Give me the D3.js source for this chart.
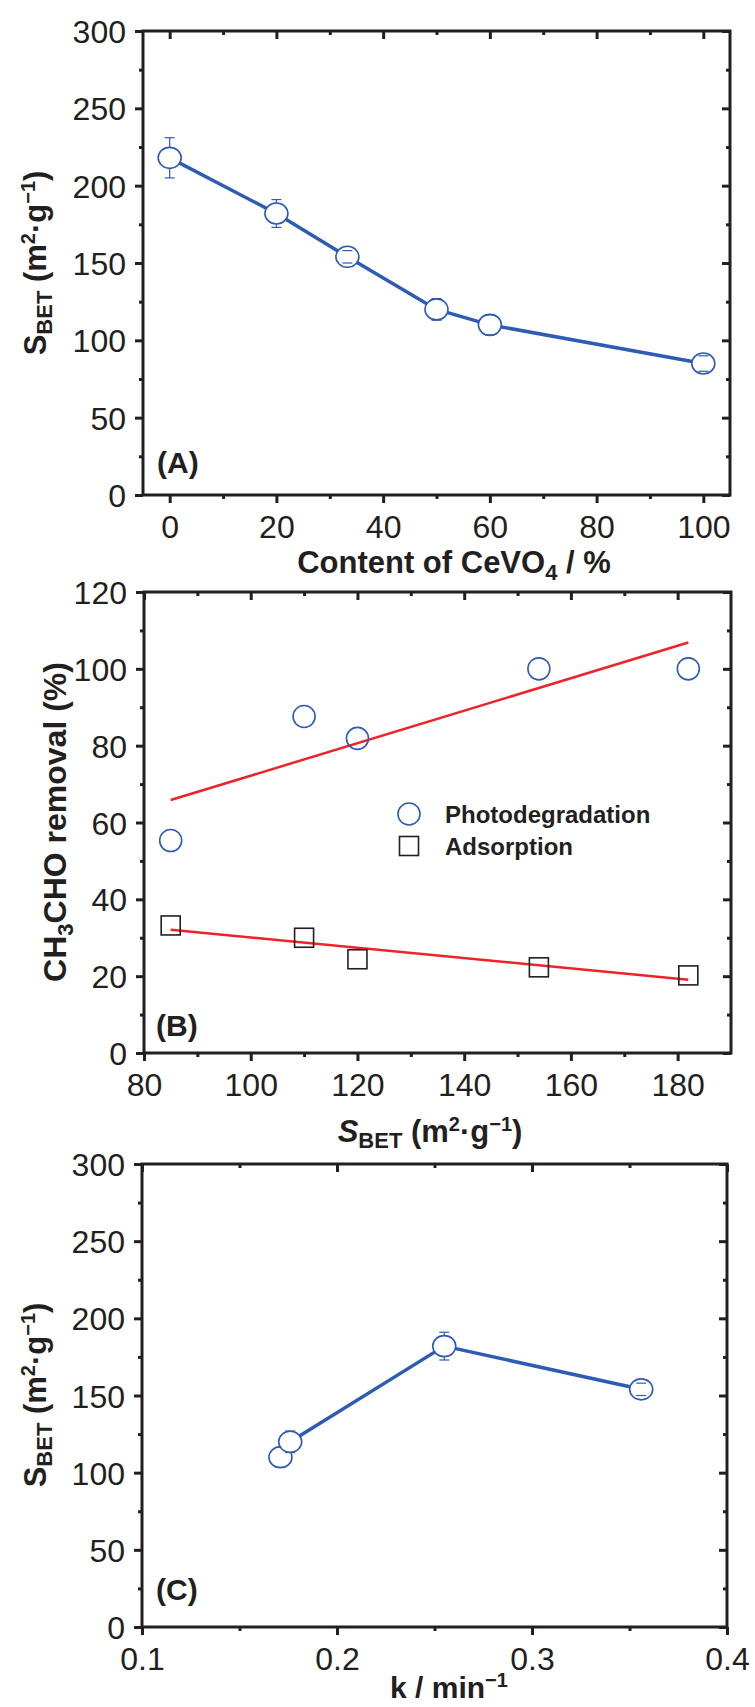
<!DOCTYPE html>
<html><head><meta charset="utf-8">
<script src="https://cdn.jsdelivr.net/npm/d3@7"></script>
<style>
body{margin:0;background:#fff}
svg text{font-family:"Liberation Sans",Arial,Helvetica,sans-serif;fill:#231F20}
</style>
</head><body>
<svg id="chart" width="755" height="1707"></svg>
<script>
// ---------- data ----------
const contentCeVO4 = [0, 20, 33.3, 50, 60, 100];
const sbetA = [218, 182, 154, 120, 110, 85];
const sbetAErr = [13, 9, 4, 7, 6.5, 5];

const sbetB = [85, 110, 120, 154, 182];
const photodegradation = [55.3, 87.6, 81.9, 100, 100];
const adsorption = [33.2, 30, 24.4, 22.3, 20.2];
const legendLabels = ["Photodegradation", "Adsorption"];

const kRate = [0.171, 0.176, 0.255, 0.356];
const sbetC = [110, 120, 182, 154];
const sbetCErr = [6.5, 7, 9, 4];

const xTicksA = [0, 20, 40, 60, 80, 100];
const xMinorA = [10, 30, 50, 70, 90];
const yTicksA = [0, 50, 100, 150, 200, 250, 300];
const yMinorA = [25, 75, 125, 175, 225, 275];
const xTicksB = [80, 100, 120, 140, 160, 180];
const xMinorB = [90, 110, 130, 150, 170];
const yTicksB = [0, 20, 40, 60, 80, 100, 120];
const yMinorB = [10, 30, 50, 70, 90, 110];
const xTicksC = [0.1, 0.2, 0.3, 0.4];
const xMinorC = [0.15, 0.25, 0.35];
const yTicksC = [0, 50, 100, 150, 200, 250, 300];
const yMinorC = [25, 75, 125, 175, 225, 275];

// ---------- style ----------
const INK = "#231F20", BLUE = "#2E5BB4", RED = "#EE2229";
const svg = d3.select("#chart");

function panel(box, xDom, yDom, xt, xm, yt, ym, xFmt) {
  const g = svg.append("g");
  const x = d3.scaleLinear().domain(xDom).range([box.l, box.r]);
  const y = d3.scaleLinear().domain(yDom).range([box.b, box.t]);
  const style = sel => {
    sel.select(".domain").remove();
    sel.selectAll("line").attr("stroke", INK).attr("stroke-width", 3);
    sel.selectAll("text").attr("font-size", 32).attr("fill", INK);
  };
  g.append("g").attr("transform", `translate(0,${box.b})`)
    .call(d3.axisBottom(x).tickValues(xt).tickSize(8).tickPadding(12).tickFormat(xFmt)).call(style)
    .selectAll("text").attr("dy", "0.71em");
  g.append("g").attr("transform", `translate(0,${box.b})`)
    .call(d3.axisBottom(x).tickValues(xm).tickSize(4).tickFormat("")).call(style);
  g.append("g").attr("transform", `translate(0,${box.t})`)
    .call(d3.axisTop(x).tickValues(xt).tickSize(-8).tickFormat("")).call(style);
  g.append("g").attr("transform", `translate(0,${box.t})`)
    .call(d3.axisTop(x).tickValues(xm).tickSize(-4).tickFormat("")).call(style);
  g.append("g").attr("transform", `translate(${box.l},0)`)
    .call(d3.axisLeft(y).tickValues(yt).tickSize(8).tickPadding(9)).call(style)
    .selectAll("text").attr("dy", "0.36em");
  g.append("g").attr("transform", `translate(${box.l},0)`)
    .call(d3.axisLeft(y).tickValues(ym).tickSize(4).tickFormat("")).call(style);
  g.append("g").attr("transform", `translate(${box.r},0)`)
    .call(d3.axisRight(y).tickValues(yt).tickSize(-8).tickFormat("")).call(style);
  g.append("g").attr("transform", `translate(${box.r},0)`)
    .call(d3.axisRight(y).tickValues(ym).tickSize(-4).tickFormat("")).call(style);
  g.append("rect").attr("x", box.l).attr("y", box.t)
    .attr("width", box.r - box.l).attr("height", box.b - box.t)
    .attr("fill", "none").attr("stroke", INK).attr("stroke-width", 3);
  return {g, x, y};
}

function errorMarkers(p, xs, ys, errs) {
  const rx = 11.5, ry = 10.5;
  xs.forEach((xv, i) => {
    const cx = p.x(xv), cy = p.y(ys[i]);
    const top = p.y(ys[i] + errs[i]), bot = p.y(ys[i] - errs[i]);
    p.g.append("ellipse").attr("cx", cx).attr("cy", cy).attr("rx", rx).attr("ry", ry)
      .attr("fill", "#fff").attr("stroke", BLUE).attr("stroke-width", 1.6);
    const eb = p.g.append("g").attr("stroke", BLUE).attr("stroke-width", 1.2);
    if (cy - top > ry) eb.append("line").attr("x1", cx).attr("x2", cx).attr("y1", top).attr("y2", cy - ry);
    if (bot - cy > ry) eb.append("line").attr("x1", cx).attr("x2", cx).attr("y1", bot).attr("y2", cy + ry);
    eb.append("line").attr("x1", cx - 5).attr("x2", cx + 5).attr("y1", top).attr("y2", top);
    eb.append("line").attr("x1", cx - 5).attr("x2", cx + 5).attr("y1", bot).attr("y2", bot);
  });
}

function sbetTitle(parent, attrs, italic) {
  const t = parent.append("text").attr("font-weight", "bold").attr("font-size", 31);
  Object.entries(attrs).forEach(([k, v]) => t.attr(k, v));
  t.append("tspan").text("S").attr("font-style", italic ? "italic" : "normal");
  t.append("tspan").text("BET").attr("font-size", 22).attr("dy", 6);
  t.append("tspan").text(" (m").attr("dy", -6);
  t.append("tspan").text("2").attr("font-size", 20).attr("dy", -11);
  t.append("tspan").text("·g").attr("dy", 11);
  t.append("tspan").text("−1").attr("font-size", 20).attr("dy", -11);
  t.append("tspan").text(")").attr("dy", 11);
  return t;
}

// ---------- Panel A ----------
const A = panel({l:143, r:730, t:31, b:495}, [-5, 105], [0, 300], xTicksA, xMinorA, yTicksA, yMinorA, d3.format("d"));
A.g.append("path").datum(contentCeVO4.map((v, i) => [v, sbetA[i]]))
  .attr("fill", "none").attr("stroke", BLUE).attr("stroke-width", 3.5).attr("stroke-linejoin", "round")
  .attr("d", d3.line().x(d => A.x(d[0])).y(d => A.y(d[1])));
errorMarkers(A, contentCeVO4, sbetA, sbetAErr);
A.g.append("text").attr("x", 157).attr("y", 473).attr("font-size", 30).attr("font-weight", "bold").text("(A)");
sbetTitle(A.g, {transform: "translate(46,263) rotate(-90)", "text-anchor": "middle"}, false);
{
  const t = A.g.append("text").attr("x", 454).attr("y", 573).attr("text-anchor", "middle")
    .attr("font-size", 31).attr("font-weight", "bold");
  t.append("tspan").text("Content of CeVO");
  t.append("tspan").text("4").attr("font-size", 22).attr("dy", 7);
  t.append("tspan").text(" / %").attr("dy", -7);
}

// ---------- Panel B ----------
const B = panel({l:144, r:731, t:592, b:1053}, [80, 190], [0, 120], xTicksB, xMinorB, yTicksB, yMinorB, d3.format("d"));
function fitLine(xs, ys) {
  const mx = d3.mean(xs), my = d3.mean(ys);
  const slope = d3.sum(xs, (v, i) => (v - mx) * (ys[i] - my)) / d3.sum(xs, v => (v - mx) ** 2);
  const [x0, x1] = d3.extent(xs);
  return [[x0, my + slope * (x0 - mx)], [x1, my + slope * (x1 - mx)]];
}
[photodegradation, adsorption].forEach(ys => {
  B.g.append("path").datum(fitLine(sbetB, ys))
    .attr("fill", "none").attr("stroke", RED).attr("stroke-width", 2.5)
    .attr("d", d3.line().x(d => B.x(d[0])).y(d => B.y(d[1])));
});
B.g.selectAll("circle.pd").data(sbetB.map((v, i) => [v, photodegradation[i]])).join("circle")
  .attr("cx", d => B.x(d[0])).attr("cy", d => B.y(d[1])).attr("r", 11)
  .attr("fill", "none").attr("stroke", BLUE).attr("stroke-width", 1.6);
B.g.selectAll("rect.ad").data(sbetB.map((v, i) => [v, adsorption[i]])).join("rect")
  .attr("x", d => B.x(d[0]) - 9.5).attr("y", d => B.y(d[1]) - 9.5).attr("width", 19).attr("height", 19)
  .attr("fill", "none").attr("stroke", INK).attr("stroke-width", 1.6);
B.g.append("circle").attr("cx", 409).attr("cy", 814).attr("r", 11).attr("fill", "none").attr("stroke", BLUE).attr("stroke-width", 1.6);
B.g.append("rect").attr("x", 399.5).attr("y", 836.5).attr("width", 19).attr("height", 19).attr("fill", "none").attr("stroke", INK).attr("stroke-width", 1.6);
B.g.append("text").attr("x", 445).attr("y", 823).attr("font-size", 24).attr("font-weight", "bold").text(legendLabels[0]);
B.g.append("text").attr("x", 445).attr("y", 855).attr("font-size", 24).attr("font-weight", "bold").text(legendLabels[1]);
B.g.append("text").attr("x", 156).attr("y", 1036).attr("font-size", 30).attr("font-weight", "bold").text("(B)");
{
  const t = B.g.append("text").attr("transform", "translate(66,822) rotate(-90)").attr("text-anchor", "middle")
    .attr("font-size", 32).attr("font-weight", "bold");
  t.append("tspan").text("CH");
  t.append("tspan").text("3").attr("font-size", 22).attr("dy", 7);
  t.append("tspan").text("CHO removal (%)").attr("dy", -7);
}
sbetTitle(B.g, {x: 430, y: 1142, "text-anchor": "middle"}, true);

// ---------- Panel C ----------
const C = panel({l:142, r:727, t:1164, b:1627}, [0.1, 0.4], [0, 300], xTicksC, xMinorC, yTicksC, yMinorC, d3.format(".1f"));
C.g.append("path").datum(kRate.map((v, i) => [v, sbetC[i]]))
  .attr("fill", "none").attr("stroke", BLUE).attr("stroke-width", 3.5).attr("stroke-linejoin", "round")
  .attr("d", d3.line().x(d => C.x(d[0])).y(d => C.y(d[1])));
errorMarkers(C, kRate, sbetC, sbetCErr);
C.g.append("text").attr("x", 156).attr("y", 1600).attr("font-size", 30).attr("font-weight", "bold").text("(C)");
sbetTitle(C.g, {transform: "translate(46,1395) rotate(-90)", "text-anchor": "middle"}, false);
{
  const t = C.g.append("text").attr("x", 449).attr("y", 1698).attr("text-anchor", "middle")
    .attr("font-size", 30).attr("font-weight", "bold");
  t.append("tspan").text("k / min");
  t.append("tspan").text("−1").attr("font-size", 20).attr("dy", -11);
}
</script>
</body></html>
